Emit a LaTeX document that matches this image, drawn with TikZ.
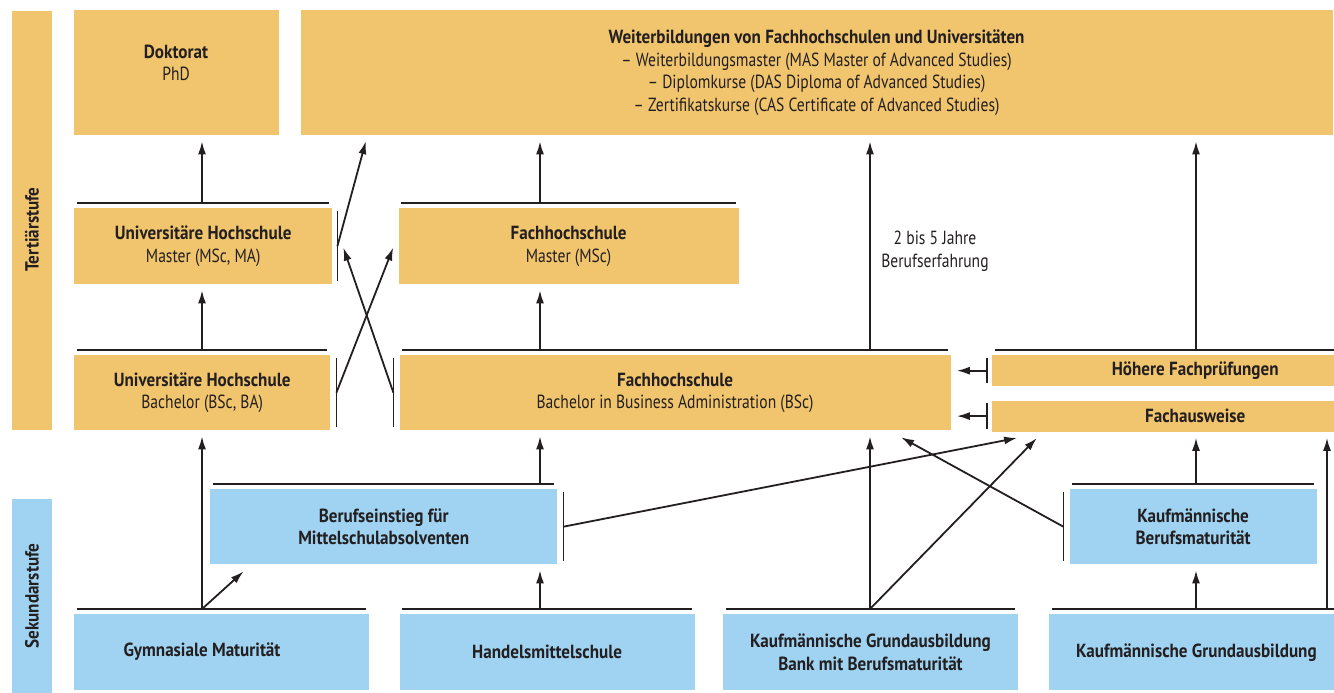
\documentclass[tikz,border=0pt]{standalone}
\usepackage{fontspec}
\setmainfont{PT Sans}[UprightFeatures={FakeStretch=0.82}, BoldFeatures={FakeStretch=0.9}]
\usetikzlibrary{positioning,arrows.meta}
\definecolor{ocker}{HTML}{F1C56D}
\definecolor{hellblau}{HTML}{9FD3F1}
\definecolor{tinte}{HTML}{231F20}

\begin{document}
\begin{tikzpicture}[x=1pt, y=-1pt,
    feld/.style={inner sep=0pt, align=center, text=tinte, font=\fontsize{19pt}{22.5pt}\selectfont},
    tert/.style={feld, fill=ocker},
    sek/.style={feld, fill=hellblau},
    rule/.style={draw=tinte, line width=1.8pt},
    arr/.style={draw=tinte, line width=1.8pt, -{Latex[length=13pt,width=8pt]}, shorten >=6pt}]
    \useasboundingbox (0,0) rectangle (1334,693);
    \clip (0,0) rectangle (1334,693);

    % Stufen
    \node[tert, minimum width=40pt, minimum height=419pt, anchor=north west] (ter) at (12,11) {};
    \node[feld, rotate=90] (terT) at (32,229.5) {\textbf{Tertiärstufe}};
    \node[sek, rotate=90, minimum width=194pt, minimum height=40pt] (sekst) at (32,596) {\textbf{Sekundarstufe}};

    % Tertiärstufe
    \node[tert, minimum width=205pt, minimum height=125pt, anchor=north west] (doc) at (74,10) {};
    \node[feld] (docT) at (176,63) {\textbf{Doktorat}\\PhD};
    \node[tert, minimum width=1032pt, minimum height=125pt, right=21pt of doc] (wb)
        {\textbf{Weiterbildungen von Fachhochschulen und Universitäten}\\
         – Weiterbildungsmaster (MAS Master of Advanced Studies)\\
         – Diplomkurse (DAS Diploma of Advanced Studies)\\
         – Zertifikatskurse (CAS Certificate of Advanced Studies)};
    \node[tert, minimum width=258pt, minimum height=76pt, anchor=north west] (unima) at (74,208)
        {\textbf{Universitäre Hochschule}\\Master (MSc, MA)};
    \node[tert, minimum width=340pt, minimum height=76pt, right=66pt of unima] (fhma)
        {\textbf{Fachhochschule}\\Master (MSc)};
    \node[tert, minimum width=256pt, minimum height=75pt, anchor=north west] (uniba) at (74,355)
        {\textbf{Universitäre Hochschule}\\Bachelor (BSc, BA)};
    \node[tert, minimum width=551pt, minimum height=75pt, right=69pt of uniba] (fhba)
        {\textbf{Fachhochschule}\\Bachelor in Business Administration (BSc)};
    \node[tert, minimum width=406pt, minimum height=31pt, anchor=north west] (hfp) at (992,355)
        {\textbf{Höhere Fachprüfungen}};
    \node[tert, minimum width=406pt, minimum height=31pt, below=14pt of hfp] (fa)
        {\textbf{Fachausweise}};

    % Sekundarstufe
    \node[sek, minimum width=347pt, minimum height=75pt, anchor=north west] (bme) at (210,489)
        {\textbf{Berufseinstieg für}\\\textbf{Mittelschulabsolventen}};
    \node[sek, minimum width=247pt, minimum height=75pt, right=512pt of bme] (kbm)
        {\textbf{Kaufmännische}\\\textbf{Berufsmaturität}};
    \node[sek, minimum width=295pt, minimum height=76pt, anchor=north west] (gym) at (74,614) {};
    \node[feld] (gymT) at (202,652) {\textbf{Gymnasiale Maturität}};
    \node[sek, minimum width=295pt, minimum height=76pt, right=30pt of gym] (hms)
        {\textbf{Handelsmittelschule}};
    \node[sek, minimum width=295pt, minimum height=76pt, right=28pt of hms] (kgb)
        {\textbf{Kaufmännische Grundausbildung}\\\textbf{Bank mit Berufsmaturität}};
    \node[sek, minimum width=294pt, minimum height=76pt, right=31pt of kgb] (kg)
        {\textbf{Kaufmännische Grundausbildung}};

    \node[feld] (exp) at (935,251) {2 bis 5 Jahre\\Berufserfahrung};

    % Linien und Balken
    \foreach \b in {unima,fhma,uniba,fhba,hfp,bme,kbm,gym,hms,kgb,kg}
        \draw[rule] ([xshift=3pt,yshift=5pt]\b.north west) -- ([xshift=-3pt,yshift=5pt]\b.north east);
    \foreach \b/\a/\d in {unima/east/5, uniba/east/6, fhba/west/-6, hfp/west/-5, fa/west/-5, bme/east/6, kbm/west/-6}{
        \draw[rule] ([xshift=\d pt,yshift=-3pt]\b.north \a) -- ([xshift=\d pt,yshift=3pt]\b.south \a);
        \coordinate (\b-bar) at ([xshift=\d pt]\b.\a);
    }

    \coordinate (colA) at (202,0);
    \coordinate (colB) at (540,0);
    \coordinate (colC) at (870,0);
    \coordinate (colD) at (1196,0);
    \coordinate (colE) at (1327,0);

    % Pfeile
    \draw[arr] ([yshift=5pt]unima.north -| colA) -- (doc.south -| colA);
    \draw[arr] (unima-bar) -- ([xshift=67pt]wb.south west);
    \draw[arr] (uniba-bar) -- ([xshift=-3pt,yshift=-34pt]fhma.north west);
    \draw[arr] (fhba-bar) -- ([xshift=9pt,yshift=-34pt]unima.north east);
    \draw[arr] ([yshift=5pt]uniba.north -| colA) -- (unima.south -| colA);
    \draw[arr] ([yshift=5pt]fhba.north -| colB) -- (fhma.south -| colB);
    \draw[arr] ([yshift=5pt]fhma.north -| colB) -- (wb.south -| colB);
    \draw[arr] ([yshift=5pt]fhba.north -| colC) -- (wb.south -| colC);
    \draw[arr] ([yshift=5pt]hfp.north -| colD) -- (wb.south -| colD);
    \draw[arr] (hfp-bar) -- (hfp-bar -| fhba.east);
    \draw[arr] (fa-bar) -- (fa-bar -| fhba.east);
    \draw[arr] ([yshift=5pt]gym.north -| colA) -- (uniba.south -| colA);
    \draw[arr] ([yshift=5pt]gym.north -| colA) -- ([xshift=38pt,yshift=-3pt]bme.south west);
    \draw[arr] ([yshift=5pt]hms.north -| colB) -- (bme.south -| colB);
    \draw[arr] ([yshift=5pt]bme.north -| colB) -- (fhba.south -| colB);
    \draw[arr] (bme-bar) -- ([xshift=31pt,yshift=-5pt]fa.south west);
    \draw[arr] ([yshift=5pt]kgb.north -| colC) -- (fhba.south -| colC);
    \draw[arr] ([yshift=5pt]kgb.north -| colC) -- ([xshift=49pt,yshift=-2pt]fa.south west);
    \draw[arr] (kbm-bar) -- ([xshift=-55pt,yshift=-4pt]fhba.south east);
    \draw[arr] ([yshift=5pt]kbm.north -| colD) -- (fa.south -| colD);
    \draw[arr] ([yshift=5pt]kg.north -| colD) -- (kbm.south -| colD);
    \draw[arr] ([yshift=5pt]kg.north -| colE) -- (fa.south -| colE);
\end{tikzpicture}
\end{document}
